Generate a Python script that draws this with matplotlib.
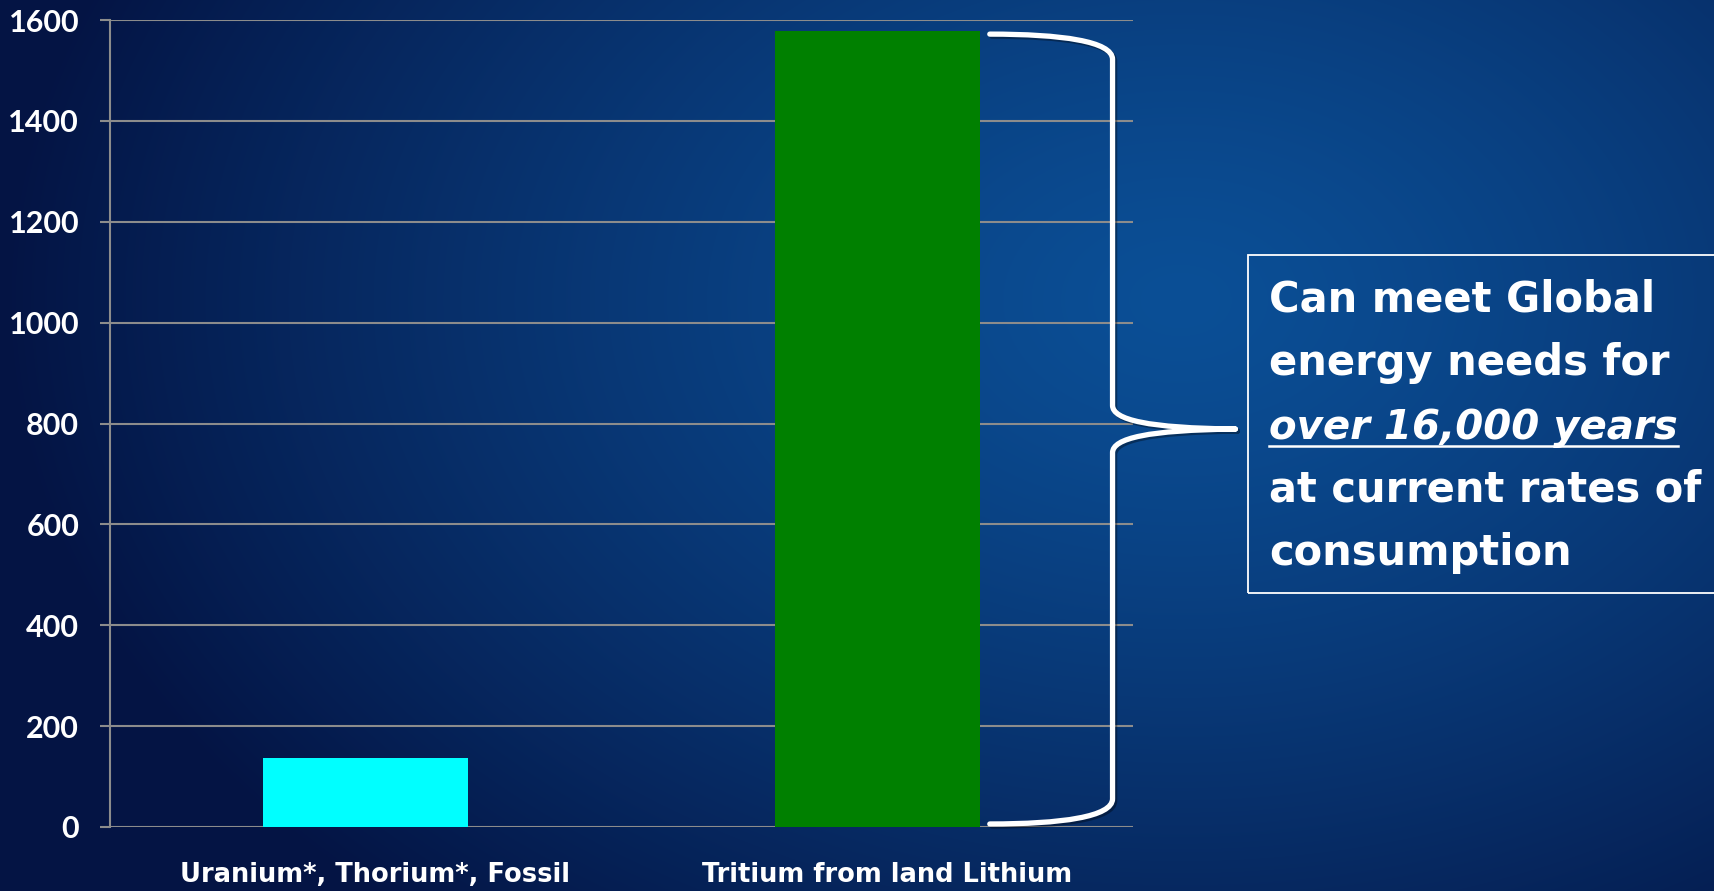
import numpy as np
import matplotlib
matplotlib.use("Agg")
import matplotlib.pyplot as plt
import matplotlib.patheffects as pe
import matplotlib.transforms as mtransforms
from matplotlib.path import Path
from matplotlib.patches import PathPatch, Rectangle

# ---- data ----
categories = ["Uranium*, Thorium*, Fossil", "Tritium from land Lithium"]
values = [137, 1578]
bar_colors = ["#00FFFF", "#008000"]
y_ticks = [0, 200, 400, 600, 800, 1000, 1200, 1400, 1600]
callout_lines = [
    "Can meet Global",
    "energy needs for",
    "over 16,000 years",
    "at current rates of",
    "consumption",
]

plt.rcParams["font.family"] = ["Lato", "DejaVu Sans"]
WIDE = ["DejaVu Sans"]

W, H, DPI = 1715, 891, 100
fig = plt.figure(figsize=(W / DPI, H / DPI), dpi=DPI)

# ---- blue radial background ----
yy, xx = np.mgrid[0:H, 0:W]
cx, cy, rx, ry = 1180.0, 300.0, 1180.0, 820.0
t = np.clip(np.sqrt(((xx - cx) / rx) ** 2 + ((yy - cy) / ry) ** 2), 0, 1)
c_in = np.array([0x0b, 0x4f, 0x96]) / 255.0
c_out = np.array([0x04, 0x14, 0x44]) / 255.0
tt = t[..., None] ** 1.3
img = c_in * (1 - tt) + c_out * tt
bg = fig.add_axes([0, 0, 1, 1], zorder=-10)
bg.imshow(img, aspect="auto", extent=[0, 1, 0, 1], origin="upper")
bg.axis("off")

# ---- bar chart ----
ax = fig.add_axes([110 / W, 1 - 827 / H, (1133 - 110) / W, (827 - 20) / H])
ax.patch.set_alpha(0)
x = np.arange(len(categories))
ax.bar(x, values, width=0.4, color=bar_colors, zorder=3)
ax.set_xlim(-0.5, 1.5)
ax.set_ylim(0, 1600)
ax.set_yticks(y_ticks)
ax.set_xticks(x)
grid_c = "#8c8c8c"
ax.yaxis.grid(True, color=grid_c, lw=1.5)
ax.set_axisbelow(True)
for s in ["top", "right", "bottom"]:
    ax.spines[s].set_visible(False)
ax.spines["left"].set_color(grid_c)
ax.spines["left"].set_linewidth(1.5)
ax.tick_params(axis="y", length=7.2, width=1.5, color=grid_c,
               labelcolor="white", labelsize=22, pad=15)
ax.tick_params(axis="x", length=0, labelcolor="white", pad=25)
ax.set_xticklabels(categories, family=WIDE, fontweight="bold", fontsize=18.5)
for lab in ax.get_yticklabels():
    lab.set_fontweight("bold")
# nudge category labels slightly to the right
shift = mtransforms.ScaledTranslation(7 / 72, 0, fig.dpi_scale_trans)
for tick in ax.xaxis.get_major_ticks():
    tick.label1.set_transform(tick.label1.get_transform() + shift)

# ---- curly brace spanning the tall bar ----
top = values[1] - 6
bot = 6
mid = (top + bot) / 2.0
x0, xv, xt = 1.22, 1.46, 1.70
verts = [
    (x0, top), (x0 + 0.14, top), (xv, top - 14), (xv, top - 50),
    (xv, mid + 47),
    (xv, mid + 18), (xv + 0.07, mid + 2), (xt, mid),
    (xt, mid),
    (xv + 0.07, mid - 2), (xv, mid - 18), (xv, mid - 47),
    (xv, bot + 50),
    (xv, bot + 14), (x0 + 0.14, bot), (x0, bot),
]
codes = [
    Path.MOVETO, Path.CURVE4, Path.CURVE4, Path.CURVE4,
    Path.LINETO,
    Path.CURVE4, Path.CURVE4, Path.CURVE4,
    Path.MOVETO,
    Path.CURVE4, Path.CURVE4, Path.CURVE4,
    Path.LINETO,
    Path.CURVE4, Path.CURVE4, Path.CURVE4,
]
brace = PathPatch(Path(verts, codes), fill=False, ec="white", lw=3.8,
                  capstyle="round", joinstyle="round", clip_on=False, zorder=5,
                  transform=ax.transData)
brace.set_path_effects([
    pe.SimpleLineShadow(offset=(1.5, -1.5), shadow_color="black", alpha=0.35),
    pe.Normal(),
])
ax.add_patch(brace)

# ---- callout box ----
box = Rectangle((1248 / W, 1 - 593 / H), 0.4, (593 - 255) / H,
                transform=fig.transFigure, fill=False, ec="white", lw=1.3,
                clip_on=False)
fig.add_artist(box)

baselines = [312, 375, 439, 502, 565]
texts = []
for i, (line, b) in enumerate(zip(callout_lines, baselines)):
    t_ = fig.text(1269 / W, 1 - b / H, line, color="white",
                  fontsize=29 if i == 2 else 30,
                  family=WIDE, fontweight="bold",
                  style="italic" if i == 2 else "normal",
                  ha="left", va="baseline")
    texts.append(t_)

# underline the highlighted line
fig.canvas.draw()
bb = texts[2].get_window_extent()
uy = 1 - 446 / H
fig.add_artist(plt.Line2D([bb.x0 / W, bb.x1 / W], [uy, uy],
                          transform=fig.transFigure, color="white", lw=1.8))

fig.savefig("out.png", dpi=DPI)
